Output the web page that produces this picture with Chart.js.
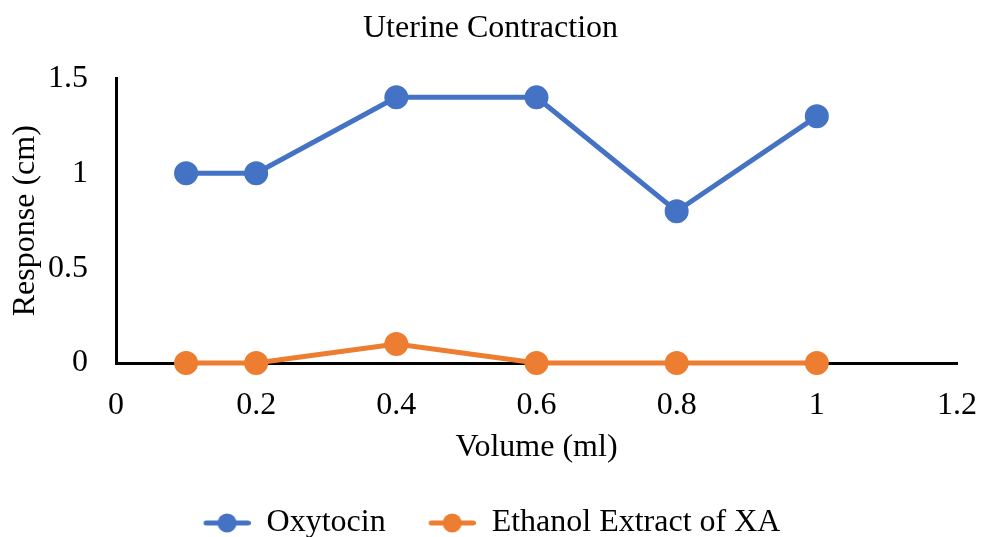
<!DOCTYPE html>
<html>
<head>
<meta charset="utf-8">
<script src="https://cdn.jsdelivr.net/npm/chart.js@4"></script>
<style>
  html, body { margin: 0; padding: 0; background: #fff; }
  #wrap { width: 981px; height: 537px; }
</style>
</head>
<body>
<div id="wrap"><canvas id="chart" width="981" height="537"></canvas></div>
<script>
// Datos
const volumes = [0.1, 0.2, 0.4, 0.6, 0.8, 1];
const oxytocin = [1, 1, 1.4, 1.4, 0.8, 1.3];
const ethanolXA = [0, 0, 0.1, 0, 0, 0];
const seriesNames = ["Oxytocin", "Ethanol Extract of XA"];

const BLUE = "#4472C4";
const ORANGE = "#ED7D31";
const FONT = "'Liberation Serif', 'Times New Roman', serif";
const FS = 32;

// Símbolo de leyenda: línea con círculo, con hueco a la izquierda para separar entradas
function legendIcon(color) {
    const c = document.createElement("canvas");
    c.width = 80;
    c.height = 22;
    const g = c.getContext("2d");
    g.strokeStyle = color;
    g.lineWidth = 5;
    g.lineCap = "round";
    g.beginPath();
    g.moveTo(35.5, 11);
    g.lineTo(77.5, 11);
    g.stroke();
    g.fillStyle = color;
    g.beginPath();
    g.arc(56.5, 11, 9.5, 0, Math.PI * 2);
    g.fill();
    return c;
}

// El hueco del primer icono descentra la leyenda; se corrige moviéndola a la izquierda
const shiftLegend = {
    id: "shiftLegend",
    afterLayout(chart) {
        chart.legend.left -= 15;
        chart.legend.right -= 15;
    },
};

const points = (ys) => volumes.map((x, i) => ({ x, y: ys[i] }));
const plain = (v) => String(Number(v.toFixed(2)));

new Chart(document.getElementById("chart").getContext("2d"), {
    type: "line",
    data: {
        datasets: [{
            label: seriesNames[0],
            data: points(oxytocin),
            borderColor: BLUE,
            backgroundColor: BLUE,
            borderWidth: 5,
            pointRadius: 9.5,
            pointHoverRadius: 9.5,
            clip: false,
        }, {
            label: seriesNames[1],
            data: points(ethanolXA),
            borderColor: ORANGE,
            backgroundColor: ORANGE,
            borderWidth: 5,
            pointRadius: 9.5,
            pointHoverRadius: 9.5,
            clip: false,
        }],
    },
    plugins: [shiftLegend],
    options: {
        responsive: false,
        animation: false,
        layout: { padding: { left: 0, right: 0, top: 0, bottom: -12 } },
        plugins: {
            title: {
                display: true,
                text: "Uterine Contraction",
                color: "#000",
                font: { family: FONT, size: FS, weight: "normal" },
                padding: { top: 9, bottom: 31 },
            },
            legend: {
                position: "bottom",
                labels: {
                    color: "#000",
                    font: { family: FONT, size: FS },
                    usePointStyle: true,
                    pointStyleWidth: 80,
                    boxHeight: 22,
                    padding: 10,
                    generateLabels: (chart) => chart.data.datasets.map((ds, i) => ({
                        text: ds.label,
                        pointStyle: legendIcon(ds.borderColor),
                        fillStyle: ds.borderColor,
                        strokeStyle: ds.borderColor,
                        lineWidth: 0,
                        datasetIndex: i,
                        hidden: false,
                    })),
                },
            },
            tooltip: { enabled: false },
        },
        scales: {
            x: {
                type: "linear",
                min: 0,
                max: 1.2,
                grid: { display: false },
                border: { display: true, color: "#000", width: 3 },
                ticks: {
                    stepSize: 0.2,
                    color: "#000",
                    padding: 15,
                    callback: plain,
                    font: { family: FONT, size: FS },
                },
                title: {
                    display: true,
                    text: "Volume (ml)",
                    color: "#000",
                    font: { family: FONT, size: FS },
                    padding: { top: 0, bottom: 30 },
                },
                afterFit: (s) => {
                    s.height = 134;
                    s.paddingLeft = 0;
                    s.paddingRight = 24;
                },
            },
            y: {
                min: 0,
                max: 1.5,
                grid: { display: false },
                border: { display: true, color: "#000", width: 3 },
                ticks: {
                    stepSize: 0.5,
                    color: "#000",
                    padding: 20,
                    callback: plain,
                    font: { family: FONT, size: FS },
                },
                title: {
                    display: true,
                    text: "Response (cm)",
                    color: "#000",
                    font: { family: FONT, size: FS },
                    padding: { top: 6, bottom: 0 },
                },
                afterFit: (s) => { s.width = 116; },
            },
        },
    },
});
</script>
</body>
</html>
